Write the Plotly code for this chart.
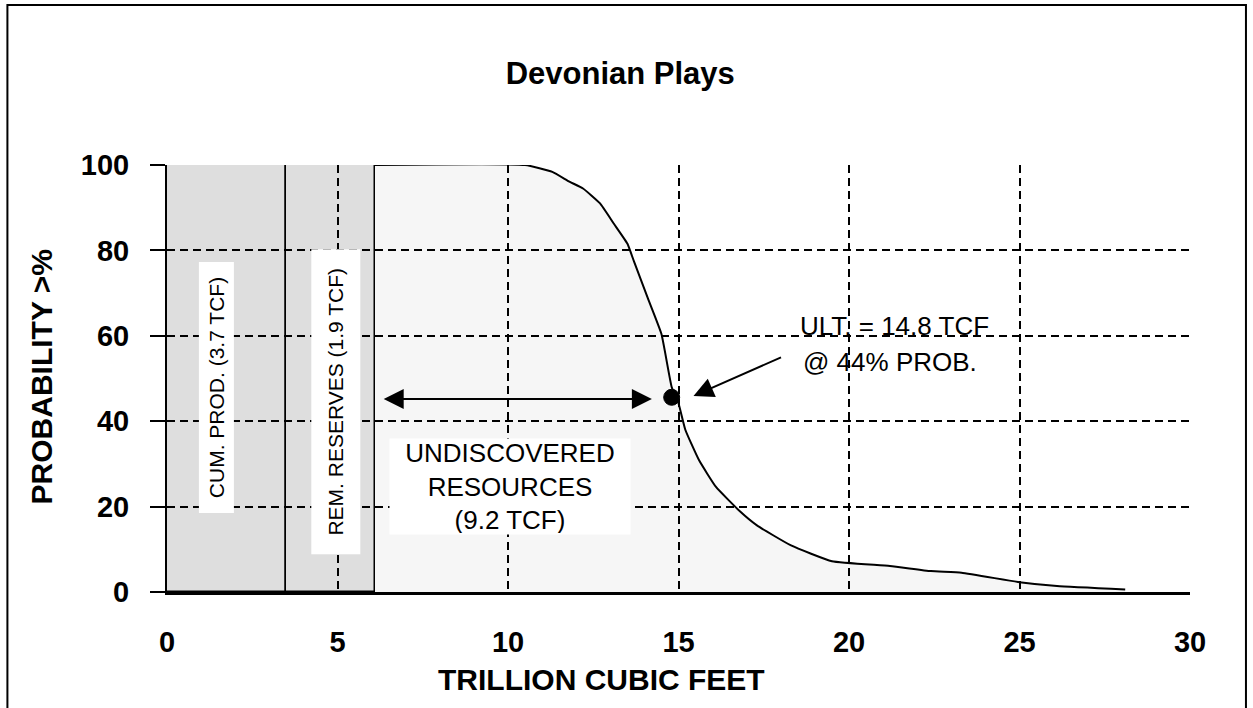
import plotly.graph_objects as go

# probability curve (TCF vs probability >%)
curve_x = [6.1, 10.5, 11.3, 11.8, 12.2, 12.7, 13.1, 13.5, 13.7, 14.1, 14.5, 14.8, 15.0,
           15.2, 15.6, 16.1, 16.8, 17.3, 18.3, 19.5, 21.2, 22.4, 23.3, 25.0, 26.1, 28.1]
curve_y = [100, 100, 98.4, 96.1, 94.5, 91.0, 86.3, 81.6, 77.3, 68.8, 60.4, 48.0, 44.2,
           38.0, 30.9, 24.6, 18.9, 15.6, 10.9, 7.2, 6.1, 4.9, 4.5, 2.3, 1.4, 0.6]

# discovered segments: cumulative production, remaining reserves
segment_names = ["CUM. PROD. (3.7 TCF)", "REM. RESERVES (1.9 TCF)"]
segment_bounds = [0, 3.5, 6.1]

ult_x = [14.8]
ult_y = [45.6]

x_ticks = [0, 5, 10, 15, 20, 25, 30]
y_ticks = [0, 20, 40, 60, 80, 100]

FONT = "Arial, Liberation Sans, sans-serif"

fig = go.Figure()

seg_centers = [(a + b) / 2 for a, b in zip(segment_bounds[:-1], segment_bounds[1:])]
seg_widths = [b - a for a, b in zip(segment_bounds[:-1], segment_bounds[1:])]
fig.add_trace(go.Bar(x=seg_centers, y=[100] * len(seg_centers), width=seg_widths,
                     marker=dict(color="rgba(0,0,0,0.13)", line=dict(color="black", width=1.5)),
                     showlegend=False, hoverinfo="skip"))

fig.add_trace(go.Scatter(x=curve_x, y=curve_y, mode="lines", fill="tozeroy",
                         fillcolor="rgba(0,0,0,0.035)",
                         line=dict(color="black", width=2, shape="spline", smoothing=0.4),
                         showlegend=False))

fig.add_trace(go.Scatter(x=ult_x, y=ult_y, mode="markers",
                         marker=dict(color="black", size=16, line=dict(color="black", width=1)),
                         showlegend=False))

fig.update_layout(
    width=1253, height=708,
    margin=dict(l=167, r=63, t=165, b=116),
    paper_bgcolor="white", plot_bgcolor="white",
    font=dict(family=FONT, color="black"),
    title=dict(text="Devonian Plays", x=0.495, xanchor="center", y=0.896, yanchor="middle",
               font=dict(size=31, weight="bold")),
    bargap=0,
)

fig.update_xaxes(range=[0, 30], tickvals=x_ticks, showgrid=True, gridcolor="black",
                 gridwidth=1.5, griddash="8px,5px", zeroline=False,
                 showline=True, linecolor="black", linewidth=2.5, ticks="",
                 ticklabelstandoff=22, tickfont=dict(size=29, weight="bold"))
fig.update_yaxes(range=[0, 100], tickvals=y_ticks, showgrid=True, gridcolor="black",
                 gridwidth=1.5, griddash="8px,5px", zeroline=False,
                 showline=True, linecolor="black", linewidth=2, ticks="outside",
                 ticklen=15, tickwidth=1.5, tickcolor="black", ticklabelstandoff=15,
                 tickfont=dict(size=29, weight="bold"))

# axis titles
fig.add_annotation(text="TRILLION CUBIC FEET", xref="paper", yref="paper", x=0.425, y=-0.206,
                   xanchor="center", yanchor="middle", showarrow=False,
                   font=dict(size=30, weight="bold"))
fig.add_annotation(text="PROBABILITY >%", xref="paper", yref="paper", x=-0.123, y=0.503,
                   xanchor="center", yanchor="middle", textangle=-90, showarrow=False,
                   font=dict(size=30, weight="bold"))

# labels in white boxes
fig.add_annotation(text=segment_names[0], x=1.45, y=48.0, textangle=-90, showarrow=False,
                   bgcolor="white", width=248, height=32, borderpad=1, font=dict(size=21))
fig.add_annotation(text=segment_names[1], x=4.95, y=44.5, textangle=-90, showarrow=False,
                   bgcolor="white", width=302, height=46, borderpad=1, font=dict(size=21))
fig.add_annotation(text="UNDISCOVERED<br>RESOURCES<br>(9.2 TCF)", x=10.06, y=24.8,
                   showarrow=False, bgcolor="white", width=238, height=93, borderpad=1,
                   font=dict(size=26))

# ULT callout
fig.add_annotation(text="ULT. = 14.8 TCF", x=18.5, y=62.3, xanchor="left", showarrow=False,
                   font=dict(size=26))
fig.add_annotation(text="@ 44% PROB.", x=18.6, y=53.8, xanchor="left", showarrow=False,
                   font=dict(size=26))
fig.add_annotation(x=15.44, y=45.9, ax=18.05, ay=55.1, axref="x", ayref="y", text="",
                   showarrow=True, arrowhead=2, arrowsize=2, arrowwidth=2, arrowcolor="black")

# undiscovered range double arrow
fig.add_annotation(x=14.22, y=45.2, ax=6.31, ay=45.2, axref="x", ayref="y", text="",
                   showarrow=True, arrowside="end+start", arrowhead=2, startarrowhead=2,
                   arrowsize=2, startarrowsize=2, arrowwidth=2, arrowcolor="black")

# outer frame
fig.add_shape(type="rect", xref="paper", yref="paper", x0=-0.156, x1=1.0547, y0=-0.3, y1=1.3747,
              line=dict(color="black", width=2), fillcolor="rgba(0,0,0,0)")

fig.write_html("out.html", config={"displayModeBar": False},
               post_script="document.body.style.margin='0';")
